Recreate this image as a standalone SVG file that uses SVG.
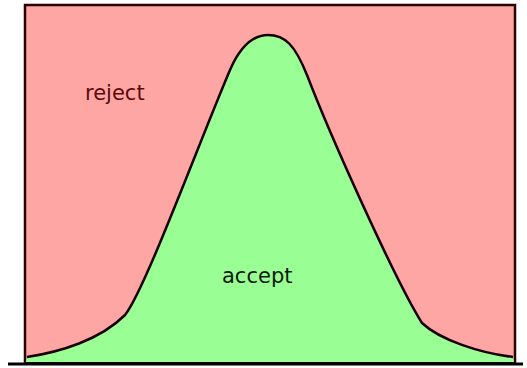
<svg xmlns="http://www.w3.org/2000/svg" width="527" height="368" viewBox="0 0 527 368">
<style>
.lbl{font-family:"DejaVu Sans",sans-serif;font-size:21px}
</style>
<rect width="527" height="368" fill="#ffffff"/>
<g id="reject-region">
<rect x="25" y="5" width="490" height="358" fill="#fea6a4" stroke="#2a0000" stroke-width="2.5"/>
</g>
<g id="accept-region">
<path d="M 27,357 C 60,352 100,340 125,315 C 145,290 200,140 230,70 C 240,47 252,35 268,35 C 285,35 295,45 307,75 C 330,135 395,280 422,323 C 440,340 480,353 513,357 L 514,362 L 26,362 Z" fill="#99ff94"/>
</g>
<g id="connectors">
<path d="M 27,357 C 60,352 100,340 125,315 C 145,290 200,140 230,70 C 240,47 252,35 268,35 C 285,35 295,45 307,75 C 330,135 395,280 422,323 C 440,340 480,353 513,357" fill="none" stroke="#1a0000" stroke-width="2.5"/>
<line x1="8" y1="364" x2="523" y2="364" stroke="#000" stroke-width="3"/>
</g>
<g id="labels">
<text class="lbl" x="85" y="100" fill="#5a0a0a">reject</text>
<text class="lbl" x="222" y="283" fill="#0a1a0a">accept</text>
</g>
</svg>
